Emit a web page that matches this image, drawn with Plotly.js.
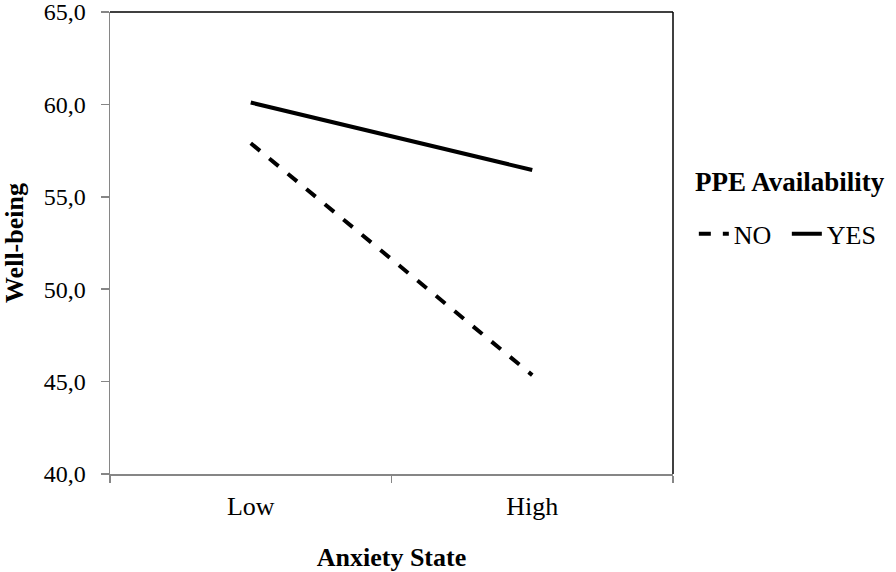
<!DOCTYPE html>
<html>
<head>
<meta charset="utf-8">
<script src="https://cdn.plot.ly/plotly-3.0.1.min.js"></script>
<style>html,body{margin:0;padding:0;background:#fff;}#chart{width:896px;height:572px;}</style>
</head>
<body>
<div id="chart"></div>
<script>
const categories = ["Low", "High"];
const seriesNames = ["NO", "YES"];
const noValues = [57.9, 45.35];
const yesValues = [60.1, 56.45];
const yTickVals = [40, 45, 50, 55, 60, 65];
const legendTitle = "PPE Availability";
const xTitle = "Anxiety State";
const yTitle = "Well-being";

const serif = "Liberation Serif, Times New Roman, serif";
const axisGray = "#868686";

const traces = [
  {
    x: categories, y: noValues, name: seriesNames[0], type: "scatter", mode: "lines",
    line: {color: "#000", width: 4, dash: "12px,12px"}
  },
  {
    x: categories, y: yesValues, name: seriesNames[1], type: "scatter", mode: "lines",
    line: {color: "#000", width: 4}
  }
];

const layout = {
  width: 896, height: 572,
  margin: {l: 110, r: 223, t: 12, b: 98},
  paper_bgcolor: "#fff", plot_bgcolor: "#fff",
  separators: ",.",
  font: {family: serif, color: "#000", size: 24},
  showlegend: true,
  legend: {
    orientation: "h",
    x: 1.037, xanchor: "left", xref: "paper",
    y: 0.52, yanchor: "middle",
    bgcolor: "rgba(0,0,0,0)",
    font: {family: serif, size: 26},
    itemwidth: 30,
    entrywidth: 48,
    tracegroupgap: 0
  },
  annotations: [
    {
      text: "<b>" + legendTitle + "</b>", xref: "paper", yref: "paper",
      x: 1.0355, xanchor: "left", y: 0.632, yanchor: "middle", showarrow: false,
      font: {family: serif, size: 27, color: "#000"}
    }
  ],
  xaxis: {
    type: "category",
    range: [-0.5, 1.5],
    tickson: "boundaries",
    ticks: "outside", ticklen: 7, tickcolor: axisGray, tickwidth: 1.5,
    showline: true, linecolor: axisGray, linewidth: 1.5,
    showgrid: false, zeroline: false,
    ticklabelstandoff: 8,
    tickfont: {family: serif, size: 26},
    title: {text: "<b>" + xTitle + "</b>", font: {family: serif, size: 26}, standoff: 30}
  },
  yaxis: {
    range: [40, 65],
    tickvals: yTickVals,
    tickformat: ".1f",
    ticks: "outside", ticklen: 8, tickcolor: axisGray, tickwidth: 1.5,
    showline: true, linecolor: axisGray, linewidth: 1.5,
    showgrid: false, zeroline: false,
    ticklabeloverflow: "allow",
    ticklabelstandoff: 10,
    tickfont: {family: serif, size: 24},
    title: {text: "<b>" + yTitle + "</b>", font: {family: serif, size: 26}, standoff: 12}
  },
  shapes: [
    {type: "line", xref: "paper", yref: "paper", x0: 0, x1: 1, y0: 1, y1: 1, line: {color: "#000", width: 1.5}},
    {type: "line", xref: "paper", yref: "paper", x0: 1, x1: 1, y0: 0, y1: 1, line: {color: "#000", width: 1.5}}
  ]
};

Plotly.newPlot("chart", traces, layout, {displayModeBar: false, staticPlot: true});
</script>
</body>
</html>
